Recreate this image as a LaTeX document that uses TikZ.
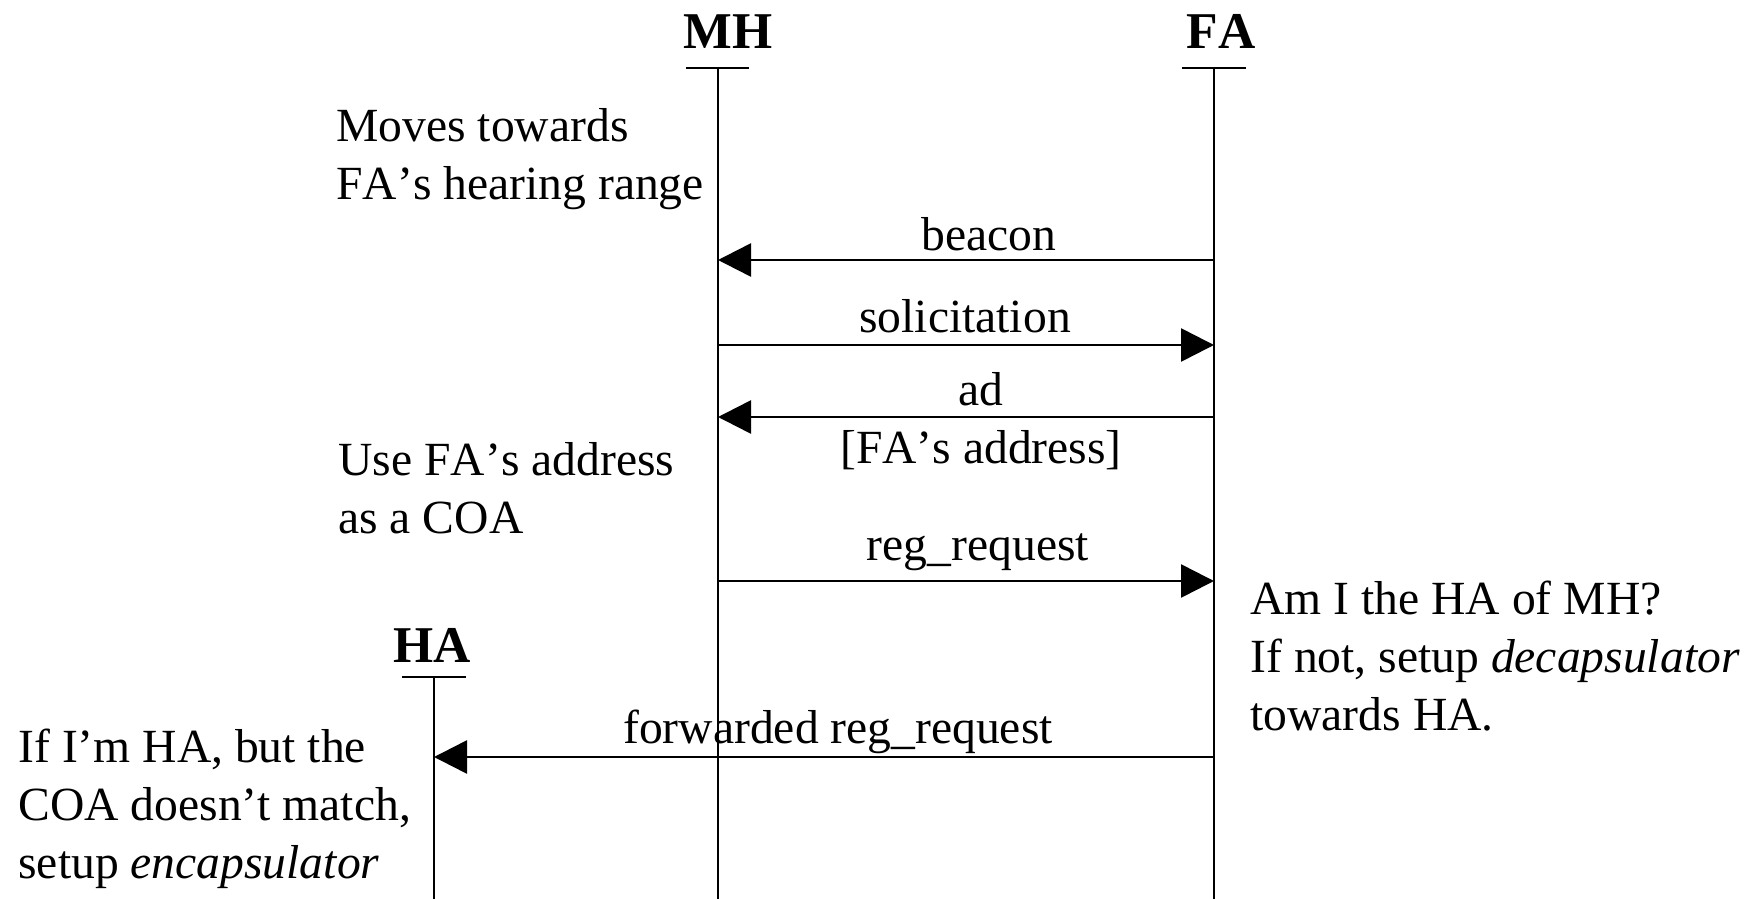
\documentclass[tikz,border=0pt]{standalone}
\usepackage{fontspec}
\setmainfont[Kerning=Off]{Liberation Serif}
\usetikzlibrary{arrows.meta}
\begin{document}
\begin{tikzpicture}[x=0.5pt,y=-0.5pt,
  hdr/.style={font=\fontsize{25.8}{30}\selectfont\bfseries, inner sep=0pt, anchor=base},
  txt/.style={font=\fontsize{23.8}{28.9}\selectfont, inner sep=0pt, anchor=base west, align=left},
  lbl/.style={font=\fontsize{23.8}{28.9}\selectfont, inner sep=0pt, anchor=base},
  life/.style={line width=1.1pt},
  bar/.style={line width=1.2pt},
  msg/.style={line width=1.3pt, -{Triangle[length=16.5pt,width=16.5pt]}}]
\useasboundingbox (0,0) rectangle (1758,899);
% lifelines
\coordinate (MHtop) at (718,68);  \coordinate (MHbot) at (718,899);
\coordinate (FAtop) at (1214,68); \coordinate (FAbot) at (1214,899);
\coordinate (HAtop) at (434,677); \coordinate (HAbot) at (434,899);
\coordinate (MHbl) at (686,68);  \coordinate (MHbr) at (749,68);
\coordinate (FAbl) at (1182,68); \coordinate (FAbr) at (1246,68);
\coordinate (HAbl) at (402,677); \coordinate (HAbr) at (466,677);
\node[hdr] (MH) at (728,49) {MH};
\node[hdr] (FA) at (1221,49) {FA};
\node[hdr] (HA) at (432.5,662) {HA};
\draw[bar] (MHbl) -- (MHbr);
\draw[bar] (FAbl) -- (FAbr);
\draw[bar] (HAbl) -- (HAbr);
\draw[life] (MHtop) -- (MHbot);
\draw[life] (FAtop) -- (FAbot);
\draw[life] (HAtop) -- (HAbot);
% notes (base anchor = baseline of the last line)
\node[txt] (n1) at (336,199.8) {Moves towards\\FA’s hearing range};
\node[txt] (n2) at (338,533.5) {Use FA’s address\\as a COA};
\node[txt] (n3) at (1250,730) {Am I the HA of MH?\\If not, setup \textit{decapsulator}\\towards HA.};
\node[txt] (n4) at (18,878.5) {If I’m HA, but the\\COA doesn’t match,\\setup \textit{encapsulator}};
% messages
\coordinate (FAb) at (1214,260); \coordinate (MHb) at (718,260);
\coordinate (MHs) at (718,345);  \coordinate (FAs) at (1214,345);
\coordinate (FAa) at (1214,417); \coordinate (MHa) at (718,417);
\coordinate (MHr) at (718,581);  \coordinate (FAr) at (1214,581);
\coordinate (FAf) at (1214,757); \coordinate (HAf) at (434,757);
\draw[msg] (FAb) -- (MHb);
\draw[msg] (MHs) -- (FAs);
\draw[msg] (FAa) -- (MHa);
\draw[msg] (MHr) -- (FAr);
\draw[msg] (FAf) -- (HAf);
\node[lbl] (l1) at (989,250) {beacon};
\node[lbl] (l2) at (965,332) {solicitation};
\node[lbl] (l3) at (981,405) {ad};
\node[lbl] (l3b) at (981,463) {[FA’s address]};
\node[lbl] (l4) at (978,560) {reg\_request};
\node[lbl] (l5) at (838,743) {forwarded reg\_request};
\end{tikzpicture}
\end{document}
